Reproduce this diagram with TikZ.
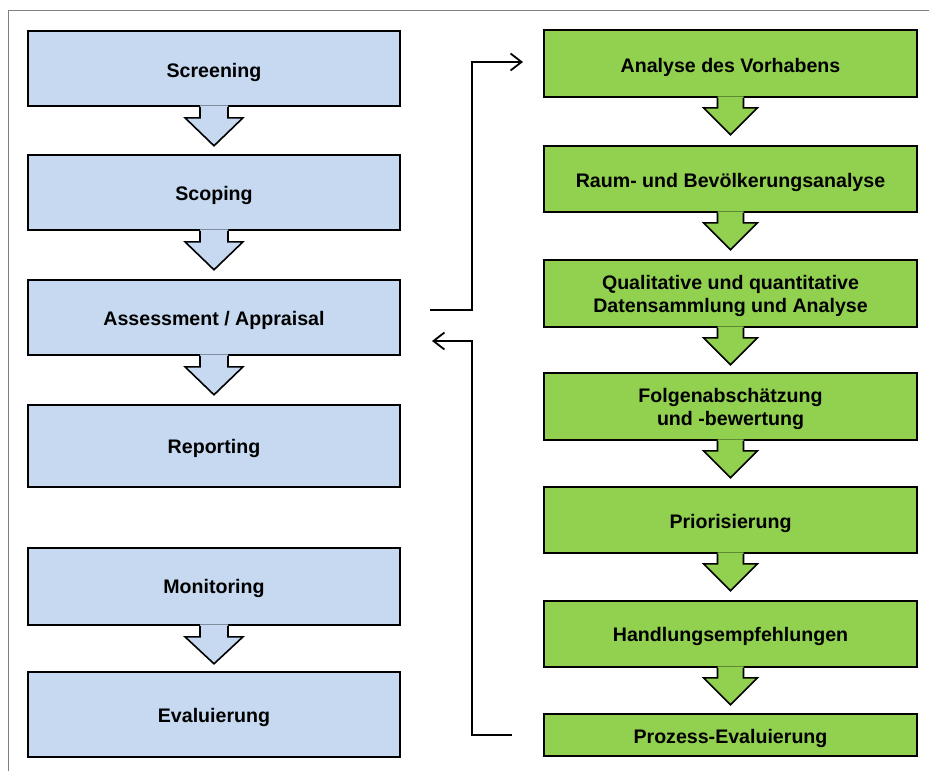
\documentclass[tikz,border=0pt]{standalone}
\usepackage{fontspec}
\setmainfont{Liberation Sans}
\usetikzlibrary{arrows.meta}
\definecolor{boxblue}{HTML}{C6D9F1}
\definecolor{boxgreen}{HTML}{92D050}
\definecolor{framegray}{HTML}{808080}
\tikzset{
  bluebox/.style={draw=black, line width=1.6pt, fill=boxblue, minimum width=372pt, inner sep=0pt},
  greenbox/.style={draw=black, line width=1.6pt, fill=boxgreen, minimum width=373pt, inner sep=0pt},
  boxtext/.style={inner sep=0pt, align=center, font=\fontsize{19.6}{23}\selectfont\bfseries},
  conn/.style={line width=1.8pt, black, -{Straight Barb[length=11pt,width=17pt,line width=1.8pt]}}
}
% block arrow below node #1: fill #2, shaft half-width #3, head half-width #4, head base offset #5, tip offset #6
\newcommand{\blockarrow}[6]{%
  \path (#1.south) coordinate (ba);
  \fill[#2] ([xshift=-#3pt,yshift=1.5pt]ba) -- ([xshift=-#3pt,yshift=-#5pt]ba) -- ([xshift=-#4pt,yshift=-#5pt]ba) -- ([yshift=-#6pt]ba) -- ([xshift=#4pt,yshift=-#5pt]ba) -- ([xshift=#3pt,yshift=-#5pt]ba) -- ([xshift=#3pt,yshift=1.5pt]ba) -- cycle;
  \draw[line width=1.6pt, line join=miter] ([xshift=-#3pt]ba) -- ([xshift=-#3pt,yshift=-#5pt]ba) -- ([xshift=-#4pt,yshift=-#5pt]ba) -- ([yshift=-#6pt]ba) -- ([xshift=#4pt,yshift=-#5pt]ba) -- ([xshift=#3pt,yshift=-#5pt]ba) -- ([xshift=#3pt]ba);
}
\newcommand{\boxlabel}[3]{\node[boxtext] (#1-t) at ([yshift=-#2pt]#1.center) {#3};}
\begin{document}
\begin{tikzpicture}[x=1pt,y=-1pt]
\useasboundingbox (0,0) rectangle (929,771);
% frame
\draw[framegray, line width=1pt] (8,771) -- (8,10.5) -- (929,10.5);

% left column
\node[bluebox, minimum height=75pt] (screen) at (214,68.5) {};
\node[bluebox, minimum height=75pt] (scope) at (214,192.5) {};
\node[bluebox, minimum height=75pt] (assess) at (214,317.5) {};
\node[bluebox, minimum height=82pt] (report) at (214,446) {};
\node[bluebox, minimum height=77pt] (monitor) at (214,586.5) {};
\node[bluebox, minimum height=85pt] (eval) at (214,714.5) {};
\boxlabel{screen}{3.5}{Screening}
\boxlabel{scope}{3}{Scoping}
\boxlabel{assess}{2.5}{Assessment / Appraisal}
\boxlabel{report}{2}{Reporting}
\boxlabel{monitor}{2}{Monitoring}
\boxlabel{eval}{3}{Evaluierung}

\blockarrow{screen}{boxblue}{14}{29}{11}{39}
\blockarrow{scope}{boxblue}{14}{29}{11}{39}
\blockarrow{assess}{boxblue}{14}{29}{11}{39}
\blockarrow{monitor}{boxblue}{14}{29}{11}{38}

% right column
\node[greenbox, minimum height=67pt] (g1) at (730.5,63.5) {};
\node[greenbox, minimum height=66pt] (g2) at (730.5,179) {};
\node[greenbox, minimum height=67pt] (g3) at (730.5,293.5) {};
\node[greenbox, minimum height=67pt] (g4) at (730.5,406.5) {};
\node[greenbox, minimum height=66pt] (g5) at (730.5,520) {};
\node[greenbox, minimum height=66pt] (g6) at (730.5,634) {};
\node[greenbox, minimum height=42pt] (g7) at (730.5,735) {};
\boxlabel{g1}{3.5}{Analyse des Vorhabens}
\boxlabel{g2}{3.5}{Raum- und Bevölkerungsanalyse}
\boxlabel{g3}{2.5}{Qualitative und quantitative\\Datensammlung und Analyse}
\boxlabel{g4}{2.5}{Folgenabschätzung\\und -bewertung}
\boxlabel{g5}{3}{Priorisierung}
\boxlabel{g6}{2.5}{Handlungsempfehlungen}
\boxlabel{g7}{3.5}{Prozess-Evaluierung}

\blockarrow{g1}{boxgreen}{13}{27}{10}{37}
\blockarrow{g2}{boxgreen}{13}{27}{10}{37}
\blockarrow{g3}{boxgreen}{13}{27}{10}{37}
\blockarrow{g4}{boxgreen}{13}{27}{10}{37}
\blockarrow{g5}{boxgreen}{13}{27}{10}{37}
\blockarrow{g6}{boxgreen}{13}{27}{10}{37}

% connectors
\coordinate (outA) at (430,310);
\coordinate (inA) at (523,62);
\draw[conn] (outA) -- (472,310) -- (472,62) -- (inA);

\coordinate (outB) at (512,735);
\coordinate (inB) at (432,341);
\draw[conn] (outB) -- (472,735) -- (472,341) -- (inB);
\end{tikzpicture}
\end{document}
